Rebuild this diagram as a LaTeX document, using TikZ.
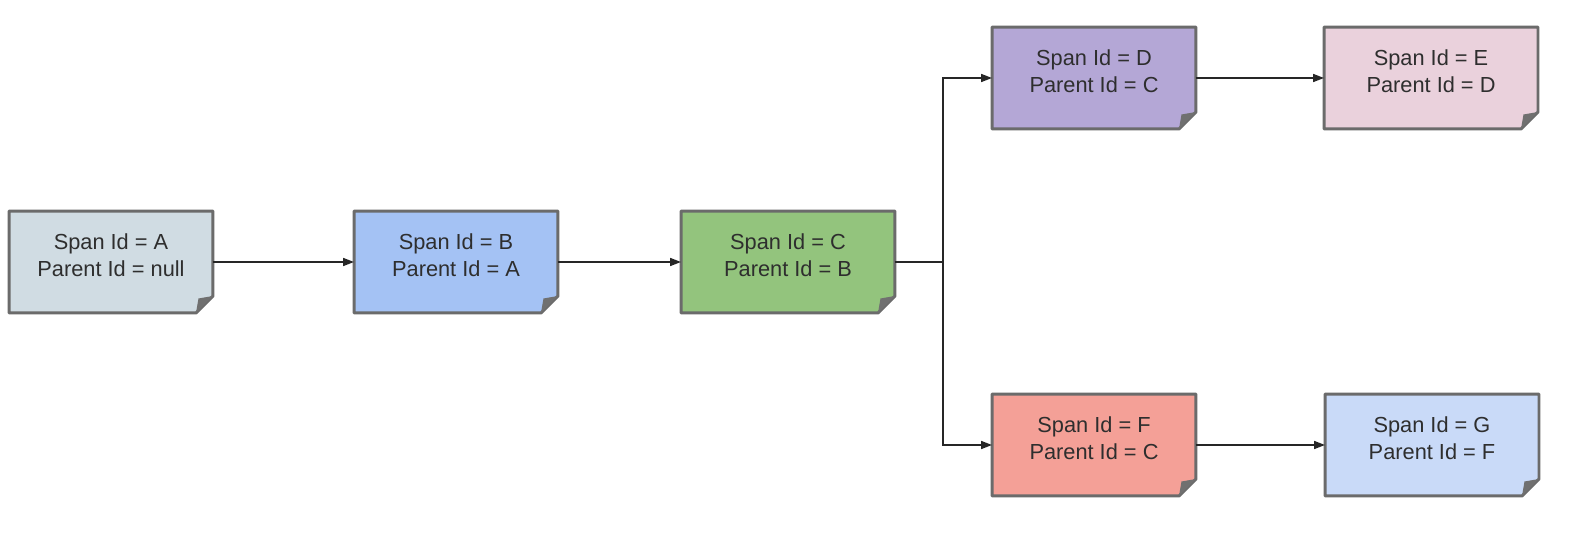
\documentclass[tikz,border=0pt]{standalone}
\usepackage{fontspec}
\setmainfont{Liberation Sans}
\usetikzlibrary{arrows.meta,backgrounds}

\definecolor{fillA}{HTML}{D0DCE3}
\definecolor{fillB}{HTML}{A4C2F4}
\definecolor{fillC}{HTML}{93C47D}
\definecolor{fillD}{HTML}{B4A7D6}
\definecolor{fillE}{HTML}{EAD1DC}
\definecolor{fillF}{HTML}{F4A097}
\definecolor{fillG}{HTML}{C9DAF8}
\definecolor{edgegray}{HTML}{6B6B6B}
\definecolor{foldgray}{HTML}{707070}
\definecolor{textgray}{HTML}{2E2E2E}

\begin{document}
\begin{tikzpicture}[x=0.02cm,y=-0.02cm,
  span/.style={minimum width=4.02cm,minimum height=1.98cm,align=center,inner sep=0pt,
    outer sep=0.85pt,text depth=8pt,font=\fontsize{12.4}{15}\selectfont,text=textgray},
  wide/.style={span,minimum width=4.22cm},
  link/.style={-{Triangle[length=0.22cm,width=0.16cm]},line width=0.9pt,black!85}]
  % Frame
  \useasboundingbox (0,0) rectangle (1571,536);

  % Spans
  \node[span] (spanA) at (111,262)   {Span Id = A\\Parent Id = null};
  \node[span] (spanB) at (456,262)   {Span Id = B\\Parent Id = A};
  \node[wide] (spanC) at (788,262)   {Span Id = C\\Parent Id = B};
  \node[span] (spanD) at (1094,78)   {Span Id = D\\Parent Id = C};
  \node[wide] (spanE) at (1431,78)   {Span Id = E\\Parent Id = D};
  \node[span] (spanF) at (1094,445)  {Span Id = F\\Parent Id = C};
  \node[wide] (spanG) at (1432,445)  {Span Id = G\\Parent Id = F};

  % Note shapes with folded corner
  \begin{scope}[on background layer]
    \fill[white] (0,0) rectangle (1571,536);
    \foreach \n/\c in {spanA/fillA,spanB/fillB,spanC/fillC,spanD/fillD,spanE/fillE,spanF/fillF,spanG/fillG}{
      \filldraw[fill=\c,draw=edgegray,line width=1.7pt,line join=round]
        (\n.north west) -- (\n.north east) -- ([yshift=0.34cm]\n.south east)
        -- ([xshift=-0.34cm]\n.south east) -- (\n.south west) -- cycle;
      \fill[foldgray] ([xshift=-0.34cm]\n.south east) -- ([yshift=0.34cm]\n.south east)
        -- ([xshift=-0.29cm,yshift=0.29cm]\n.south east) -- cycle;
    }
  \end{scope}

  % Links
  \coordinate (fork) at (943,262);
  \draw[link] (spanA) -- (spanB);
  \draw[link] (spanB) -- (spanC);
  \draw[line width=0.9pt,black!85] (spanC) -- (fork);
  \draw[link] (fork) |- (spanD);
  \draw[link] (fork) |- (spanF);
  \draw[link] (spanD) -- (spanE);
  \draw[link] (spanF) -- (spanG);
\end{tikzpicture}
\end{document}
